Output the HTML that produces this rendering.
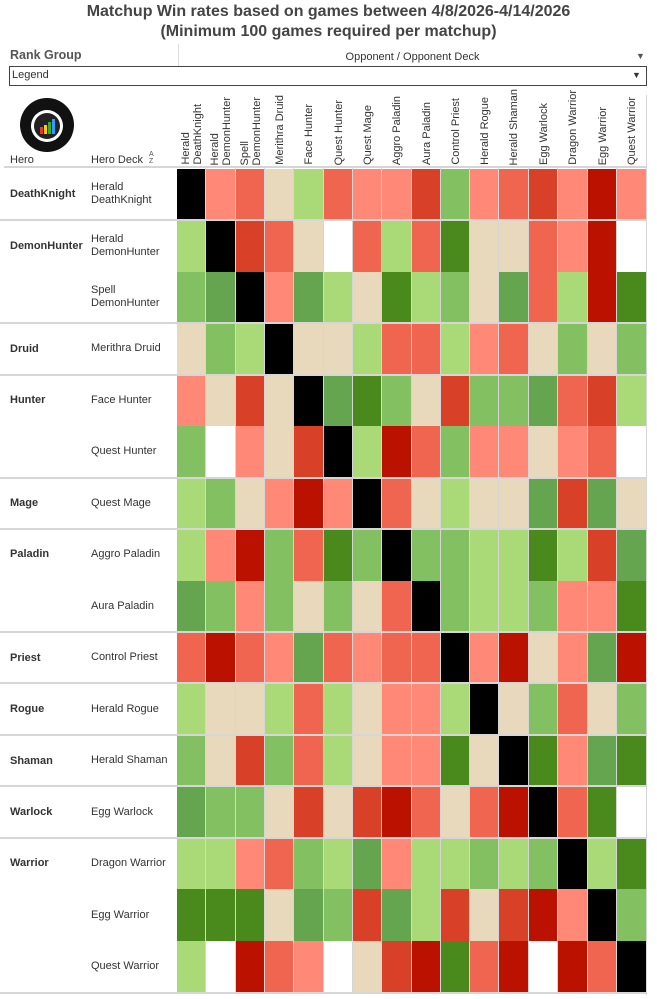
<!DOCTYPE html>
<html><head><meta charset="utf-8"><style>
body{margin:0;background:#fff;width:657px;height:999px;position:relative;overflow:hidden;font-family:"Liberation Sans",Arial,sans-serif;color:#333}
.a{position:absolute}
.t{left:0;width:657px;text-align:center;font-weight:bold;font-size:16px;color:#444}
.hd{position:absolute;top:95px;height:70px;width:29px;display:flex;justify-content:center;align-items:flex-end}
.hd span{writing-mode:vertical-rl;transform:rotate(180deg);font-size:11px;line-height:12px;color:#333;white-space:nowrap}
.hero{position:absolute;left:10px;font-size:11px;font-weight:bold;color:#333}
.deck{position:absolute;left:91px;font-size:11px;color:#333;line-height:13px}
.c{position:absolute}
.sep{position:absolute;left:0;width:647px;height:2px;background:#d6d6d6}
</style></head><body>
<div class="a t" style="top:3px">Matchup Win rates based on games between 4/8/2026-4/14/2026</div>
<div class="a t" style="top:23px">(Minimum 100 games required per matchup)</div>
<div class="a" style="left:10px;top:48px;font-size:12.5px;color:#555;font-weight:bold">Rank Group</div>
<div class="a" style="left:178px;top:44px;width:1px;height:22px;background:#ddd"></div>
<div class="a" style="left:178px;top:51px;width:469px;text-align:center;font-size:11px;color:#333">Opponent / Opponent Deck</div>
<div class="a" style="left:636px;top:51px;font-size:9px;color:#555">▼</div>
<div class="a" style="left:9px;top:66px;width:636px;height:18px;border:1px solid #444;"></div>
<div class="a" style="left:12px;top:69px;font-size:11px;color:#333">Legend</div>
<div class="a" style="left:632px;top:70px;font-size:9px;color:#333">▼</div>
<svg class="a" style="left:18px;top:96px" width="58" height="60" viewBox="0 0 58 60">
<circle cx="29" cy="29" r="27" fill="#111"/><circle cx="29" cy="30" r="16" fill="#fff"/><circle cx="29" cy="30" r="13" fill="#222"/>
<rect x="22" y="31" width="3" height="7" fill="#e33"/><rect x="26" y="29" width="3" height="9" fill="#fc0"/><rect x="30" y="26" width="3" height="12" fill="#3a3"/><rect x="34" y="23" width="3" height="15" fill="#39f"/>
</svg>
<div class="a" style="left:10px;top:154px;font-size:11px">Hero</div>
<div class="a" style="left:91px;top:154px;font-size:11px">Hero Deck</div>
<div class="a" style="left:149px;top:151px;font-size:7px;line-height:7px;color:#555">A<br>Z</div>
<div class="a" style="left:4px;top:166px;width:643px;height:2px;background:#d6d6d6"></div>
<div class="a" style="left:646px;top:95px;width:1px;height:900px;background:#d6d6d6"></div>
<div class="a" style="left:0;top:992px;width:647px;height:2px;background:#d6d6d6"></div>

<div class="hd" style="left:177px"><span>Herald<br>DeathKnight</span></div>
<div class="hd" style="left:206px"><span>Herald<br>DemonHunter</span></div>
<div class="hd" style="left:236px"><span>Spell<br>DemonHunter</span></div>
<div class="hd" style="left:265px"><span>Merithra Druid</span></div>
<div class="hd" style="left:294px"><span>Face Hunter</span></div>
<div class="hd" style="left:324px"><span>Quest Hunter</span></div>
<div class="hd" style="left:353px"><span>Quest Mage</span></div>
<div class="hd" style="left:382px"><span>Aggro Paladin</span></div>
<div class="hd" style="left:412px"><span>Aura Paladin</span></div>
<div class="hd" style="left:441px"><span>Control Priest</span></div>
<div class="hd" style="left:470px"><span>Herald Rogue</span></div>
<div class="hd" style="left:499px"><span>Herald Shaman</span></div>
<div class="hd" style="left:529px"><span>Egg Warlock</span></div>
<div class="hd" style="left:558px"><span>Dragon Warrior</span></div>
<div class="hd" style="left:588px"><span>Egg Warrior</span></div>
<div class="hd" style="left:617px"><span>Quest Warrior</span></div>

<div class="hero" style="top:188px">DeathKnight</div>
<div class="hero" style="top:240px">DemonHunter</div>
<div class="hero" style="top:343px">Druid</div>
<div class="hero" style="top:394px">Hunter</div>
<div class="hero" style="top:497px">Mage</div>
<div class="hero" style="top:548px">Paladin</div>
<div class="hero" style="top:652px">Priest</div>
<div class="hero" style="top:703px">Rogue</div>
<div class="hero" style="top:755px">Shaman</div>
<div class="hero" style="top:806px">Warlock</div>
<div class="hero" style="top:857px">Warrior</div>

<div class="deck" style="top:181px">Herald<br>DeathKnight</div>
<div class="deck" style="top:233px">Herald<br>DemonHunter</div>
<div class="deck" style="top:284px">Spell<br>DemonHunter</div>
<div class="deck" style="top:342px">Merithra Druid</div>
<div class="deck" style="top:394px">Face Hunter</div>
<div class="deck" style="top:445px">Quest Hunter</div>
<div class="deck" style="top:497px">Quest Mage</div>
<div class="deck" style="top:548px">Aggro Paladin</div>
<div class="deck" style="top:600px">Aura Paladin</div>
<div class="deck" style="top:651px">Control Priest</div>
<div class="deck" style="top:703px">Herald Rogue</div>
<div class="deck" style="top:754px">Herald Shaman</div>
<div class="deck" style="top:806px">Egg Warlock</div>
<div class="deck" style="top:857px">Dragon Warrior</div>
<div class="deck" style="top:909px">Egg Warrior</div>
<div class="deck" style="top:960px">Quest Warrior</div>

<div id="g"></div>
<script>
var C={K:"#000",a:"#FF8877",b:"#F06550",c:"#D84027",d:"#BB1100",t:"#E8D9BD","1":"#AAD977","2":"#83C062","3":"#65A550","4":"#4A8A1C",w:"#fff"};
var R=["Kabt1baac2abcada",
"1Kcbtwb1b4ttbadw",
"23Ka31t412t3b1d4",
"t21Ktt1bb1abt2t2",
"atctK342tc223bc1",
"2watcK1db2aatabw",
"12tadaKbt1tt3c3t",
"1ad2b42K221141c3",
"32a2t2tbK2112aa4",
"bdba3babbKadta3d",
"1tt1b1taa1Kt2bt2",
"2tc2b1taa4tK4a34",
"322tctcdbtbdKb4w",
"11ab213a11212K14",
"444t32c31ctcdaK2",
"1wdbawtcd4bdwdbK"];
var xs=[177.3,206,236,265.3,294.3,324.3,353.3,382.3,412.3,441.3,470.3,499.3,529,558.3,587.7,617.3,646.7];
var seps=[1,3,4,6,7,9,10,11,12,13];
var h="";
for(var i=0;i<16;i++){var y0=169+i*51.44,y1=169+(i+1)*51.44;
 for(var j=0;j<16;j++){h+='<div class="c" style="left:'+xs[j]+'px;top:'+y0+'px;width:'+(xs[j+1]-xs[j]-1)+'px;height:'+(y1-y0)+'px;background:'+C[R[i][j]]+'"></div>';}}
for(var j=1;j<16;j++){h+='<div class="c" style="left:'+(xs[j]-1)+'px;top:168px;width:1px;height:825px;background:#d6d6d6"></div>';}
seps.forEach(function(s){h+='<div class="sep" style="top:'+(169+s*51.44-1)+'px"></div>';});
document.getElementById("g").innerHTML=h;
</script>
</body></html>
